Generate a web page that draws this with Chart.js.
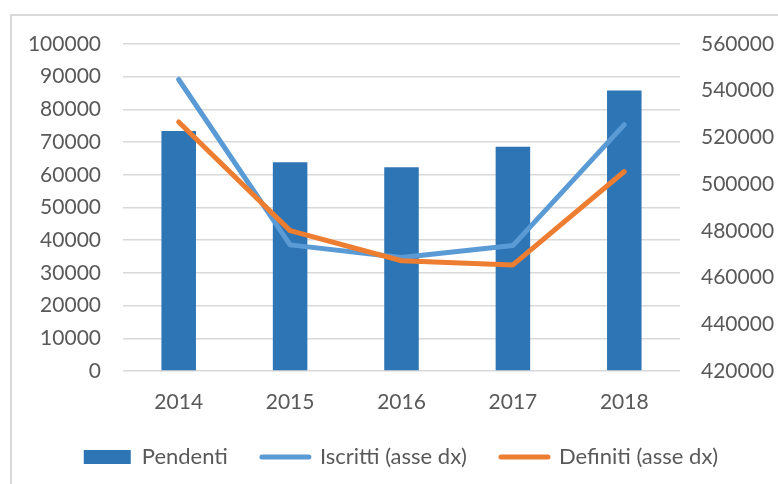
<!DOCTYPE html>
<html>
<head>
<meta charset="utf-8">
<script src="https://cdn.jsdelivr.net/npm/chart.js@4/dist/chart.umd.min.js"></script>
<style>
  html, body { margin: 0; padding: 0; background: #ffffff; }
  #wrap { position: relative; width: 778px; height: 484px; overflow: hidden; }
  #frame { position: absolute; left: 10px; top: 14px; width: 800px; height: 500px; border: 2px solid #d9d9d9; pointer-events: none; }
  canvas { position: absolute; left: 0; top: 0; }
</style>
</head>
<body>
<div id="wrap">
  <canvas id="c" width="778" height="484"></canvas>
  <div id="frame"></div>
</div>
<script>
const years = ['2014', '2015', '2016', '2017', '2018'];
const pendenti = [73400, 63800, 62300, 68600, 85800];
const iscritti = [544800, 474000, 468600, 473700, 525500];
const definiti = [526600, 480100, 467200, 465400, 505400];
const leftTicks = { min: 0, max: 100000, step: 10000 };
const rightTicks = { min: 420000, max: 560000, step: 20000 };

const FONT = { family: 'Lato', size: 21 };
const LFONT = { family: 'Lato', size: 22 };
const TXT = '#595959';
const plain = (v) => String(v);

new Chart(document.getElementById('c'), {
  data: {
    labels: years,
    datasets: [
      {
        type: 'bar', label: 'Pendenti', data: pendenti, yAxisID: 'y',
        backgroundColor: '#2e75b6', borderWidth: 0,
        barPercentage: 0.31, categoryPercentage: 1, order: 3
      },
      {
        type: 'line', label: 'Iscritti (asse dx)', data: iscritti, yAxisID: 'y1',
        borderColor: '#5b9bd5', backgroundColor: '#5b9bd5', borderWidth: 5,
        borderCapStyle: 'round', borderJoinStyle: 'round',
        pointRadius: 0, tension: 0, fill: false, order: 2
      },
      {
        type: 'line', label: 'Definiti (asse dx)', data: definiti, yAxisID: 'y1',
        borderColor: '#ed7d31', backgroundColor: '#ed7d31', borderWidth: 5,
        borderCapStyle: 'round', borderJoinStyle: 'round',
        pointRadius: 0, tension: 0, fill: false, order: 1
      }
    ]
  },
  options: {
    responsive: false,
    animation: false,
    layout: { padding: { left: 24, right: 0, top: 44, bottom: 6 } },
    plugins: {
      tooltip: { enabled: false },
      legend: {
        position: 'bottom',
        maxHeight: 73,
        labels: {
          font: LFONT, color: TXT,
          usePointStyle: true, pointStyleWidth: 47, boxHeight: 14,
          padding: 34,
          sort: (a, b) => a.datasetIndex - b.datasetIndex,
          generateLabels: (chart) => chart.data.datasets.map((ds, i) => ({
            text: ds.label,
            datasetIndex: i,
            fillStyle: ds.backgroundColor,
            strokeStyle: ds.type === 'bar' ? ds.backgroundColor : ds.borderColor,
            lineWidth: ds.type === 'bar' ? 0 : 5,
            lineCap: 'round',
            pointStyle: ds.type === 'bar' ? 'rect' : 'line',
            fontColor: TXT,
            hidden: false
          }))
        }
      }
    },
    scales: {
      x: {
        type: 'category',
        grid: { display: false, drawTicks: false },
        border: { display: false },
        ticks: { font: FONT, color: TXT, padding: 19, maxRotation: 0 },
        afterFit: (s) => { s.height = 41; }
      },
      y: {
        type: 'linear', position: 'left',
        min: leftTicks.min, max: leftTicks.max,
        ticks: { stepSize: leftTicks.step, font: FONT, color: TXT, padding: 22, callback: plain },
        grid: { color: '#d9d9d9', lineWidth: 1.5, drawTicks: false },
        border: { display: false },
        afterFit: (s) => { s.width = 99; }
      },
      y1: {
        type: 'linear', position: 'right',
        min: rightTicks.min, max: rightTicks.max,
        ticks: { stepSize: rightTicks.step, font: FONT, color: TXT, padding: 21, callback: plain },
        grid: { drawOnChartArea: false, drawTicks: false },
        border: { display: false },
        afterFit: (s) => { s.width = 98; }
      }
    }
  }
});
</script>
</body>
</html>
